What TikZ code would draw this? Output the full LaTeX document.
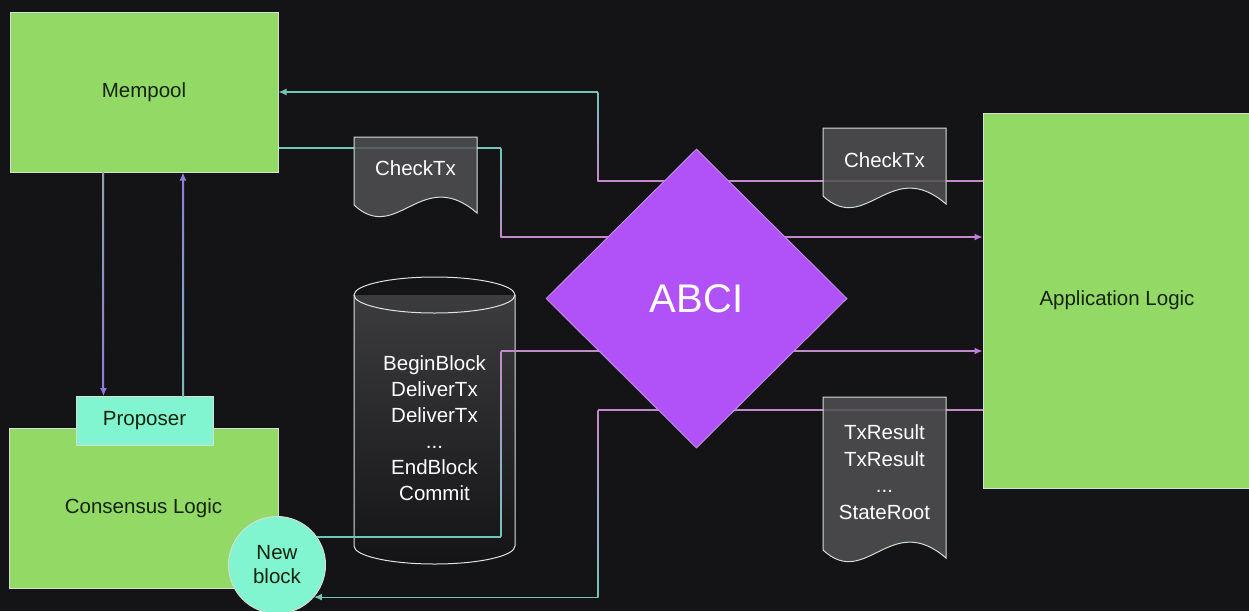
\documentclass[tikz,border=0pt]{standalone}
\usepackage{fontspec}
\setmainfont{Liberation Sans}
\usepackage{tikz}
\usetikzlibrary{shapes.geometric, arrows.meta, calc}
\definecolor{ABCIBg}{HTML}{141417}
\definecolor{ABCIGreen}{HTML}{92D966}
\definecolor{ABCIAqua}{HTML}{80F5D0}
\definecolor{ABCIPurple}{HTML}{B052F7}
\definecolor{ABCIDoc}{HTML}{505054}
\definecolor{ABCIEdge}{HTML}{D6DDD2}
\definecolor{ABCIInk}{HTML}{16240E}
\definecolor{ABCICylTop}{HTML}{3C3C3F}
\definecolor{ABCITeal}{HTML}{72C6B8}
\definecolor{ABCIPeach}{HTML}{D6A07E}
\definecolor{ABCIPink}{HTML}{C28ACB}
\definecolor{ABCIMagenta}{HTML}{C677E4}
\definecolor{ABCILav}{HTML}{8C7CDA}
\definecolor{ABCIGrey}{HTML}{8FA3A6}

\tikzset{
  box/.style={draw=ABCIEdge, line width=1pt, fill=ABCIGreen, text=ABCIInk,
    font=\fontsize{20.5}{24}\selectfont, inner sep=0pt},
  aqua/.style={draw=ABCIEdge, line width=1pt, fill=ABCIAqua, text=ABCIInk,
    font=\fontsize{20.5}{24}\selectfont, align=center, inner sep=0pt},
  docline/.style={draw=ABCIEdge, line width=1pt, fill=ABCIDoc, fill opacity=0.85},
  doctext/.style={text=white, font=\fontsize{20.5}{26.5}\selectfont, align=center, inner sep=0pt},
  cylline/.style={draw=ABCIEdge!80, line width=1pt},
  cyltext/.style={text=white, font=\fontsize{20.5}{26}\selectfont, align=center, inner sep=0pt},
  abci/.style={diamond, draw=ABCIEdge!40!ABCIPurple, line width=1pt, fill=ABCIPurple,
    text=white, font=\fontsize{40}{48}\selectfont, inner sep=0pt},
  flow/.style={line width=1.3pt},
  tip/.style={-{Latex[length=8pt, width=7pt]}},
}
\newcommand{\vgrad}[5]{%
  \shade[top color=#3, middle color=#4, bottom color=#5]
    ($(#1)+(-0.65,0)$) rectangle ($(#2)+(0.65,0)$);}
% left, top, width, left corner
\newcommand{\docshape}[4]{%
  \draw[docline] (#1,#2) -- (#1+#3,#2) -- (#1+#3,#4+8)
    .. controls (#1+0.55*#3,#4-40) and (#1+0.35*#3,#4+40) .. (#1,#4) -- cycle;}

\begin{document}
\begin{tikzpicture}[x=1pt, y=-1pt]
  \path[use as bounding box, fill=ABCIBg] (0,0) rectangle (1249,611);

  \node[box, minimum width=268pt, minimum height=160pt] (mempool) at (144,92) {Mempool};
  \node[box, minimum width=269pt, minimum height=160pt] (consensus) at (143.5,508) {Consensus Logic};
  \node[box, minimum width=268pt, minimum height=375pt] (app) at (1117,300.5) {Application Logic};
  \node[aqua, minimum width=137pt, minimum height=49pt] (propr) at (144.5,421) {Proposer};
  \node[aqua, circle, minimum size=97pt] (newblk) at (277,565) {New\\block};

  % block store
  \shade[top color=ABCICylTop, bottom color=ABCIBg]
    (354,295) -- (354,546) arc[start angle=180, end angle=0, x radius=80.5, y radius=18] -- (515,295) -- cycle;
  \draw[cylline] (354,295) -- (354,546) arc[start angle=180, end angle=0, x radius=80.5, y radius=18] -- (515,295);
  \draw[cylline] (434.5,295) ellipse [x radius=80.5, y radius=18];
  \node[cyltext] (calls) at (434.5,428) {BeginBlock\\DeliverTx\\DeliverTx\\...\\EndBlock\\Commit};

  % mempool <-> proposer
  \vgrad{$(mempool.south)+(-41,0)$}{$(propr.north)+(-41,-6)$}{ABCIGrey}{ABCIGrey!50!ABCILav}{ABCILav}
  \draw[flow, ABCILav, tip] ($(propr.north)+(-41,-9)$) -- ($(propr.north)+(-41,0)$);
  \vgrad{$(mempool.south)+(39,6)$}{$(propr.north)+(39,0)$}{ABCILav}{ABCIGrey!50!ABCILav}{ABCITeal!70!ABCIGrey}
  \draw[flow, ABCILav, tip] ($(mempool.south)+(39,9)$) -- ($(mempool.south)+(39,0)$);

  % abci connectors
  \coordinate (r1) at (598,181);
  \coordinate (r2) at (501,148);
  \coordinate (r2b) at (501,237);
  \coordinate (r3) at (501,351);
  \coordinate (r4) at (598,410);

  \draw[flow, ABCIPink] (app.west |- r1) -- (r1);
  \vgrad{r1 |- mempool.east}{r1}{ABCITeal}{ABCIPeach}{ABCIPink}
  \draw[flow, ABCITeal, tip] (r1 |- mempool.east) -- (mempool.east);

  \draw[flow, ABCITeal] (mempool.east |- r2) -- (r2);
  \vgrad{r2}{r2b}{ABCITeal}{ABCIPeach}{ABCIPink}
  \draw[flow, ABCIPink, -{Latex[length=8pt, width=7pt, color=ABCIMagenta]}] (r2b) -- (app.west |- r2b);

  \draw[flow, ABCITeal] (newblk.35) -- (newblk.35 -| r3);
  \vgrad{r3}{newblk.35 -| r3}{ABCIPink}{ABCIPeach}{ABCITeal}
  \draw[flow, ABCIPink, -{Latex[length=8pt, width=7pt, color=ABCIMagenta]}] (r3) -- (app.west |- r3);

  \draw[flow, ABCIPink] (app.west |- r4) -- (r4);
  \vgrad{r4}{r4 |- newblk.-41}{ABCIPink}{ABCIPeach}{ABCITeal}
  \draw[flow, ABCITeal, tip] (r4 |- newblk.-41) -- (newblk.-41);

  % messages
  \docshape{354}{137}{123}{205}
  \node[doctext] (chkleft) at (415.5,168) {CheckTx};
  \docshape{823}{128}{123}{196}
  \node[doctext] (chkright) at (884.5,160) {CheckTx};
  \docshape{823}{397}{123}{550}
  \node[doctext] (results) at (884.5,472) {TxResult\\TxResult\\...\\StateRoot};

  \node[abci, minimum width=301pt, minimum height=299pt] (abci) at (696.5,298.5) {ABCI};
\end{tikzpicture}
\end{document}
